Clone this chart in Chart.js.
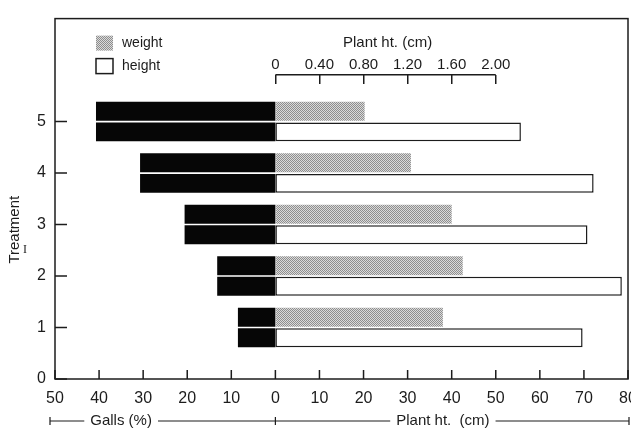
<!DOCTYPE html>
<html>
<head>
<meta charset="utf-8">
<script src="https://cdn.jsdelivr.net/npm/chart.js@4.4.0/dist/chart.umd.min.js"></script>
<style>
  html, body { margin: 0; padding: 0; background: #fff; }
  #wrap { width: 631px; height: 429px; }
</style>
</head>
<body>
<div id="wrap"><canvas id="chart" width="631" height="429"></canvas></div>
<script>
// values, treatment 1..5
const treatments = [1, 2, 3, 4, 5];
const gallsPct = [8.5, 13.2, 20.6, 30.7, 40.7];
const plantWeight = [1.52, 1.70, 1.60, 1.23, 0.81];
const plantHeight = [69.7, 78.6, 70.8, 72.2, 55.7];

// tick labels
const bottomTickValues = [-50, -40, -30, -20, -10, 0, 10, 20, 30, 40, 50, 60, 70, 80];
const bottomTickLabels = ['50', '40', '30', '20', '10', '0', '10', '20', '30', '40', '50', '60', '70', '80'];
const treatmentTicks = [0, 1, 2, 3, 4, 5];
const weightTickValues = [0, 0.4, 0.8, 1.2, 1.6, 2.0];
const weightTickLabels = ['0', '0.40', '0.80', '1.20', '1.60', '2.00'];

const ink = '#1c1c1c';
const fontFamily = '"Liberation Sans", Arial, sans-serif';
const halfGap = 0.2;        // upper/lower bar offset from the treatment line
const weightAxisAt = 5.91;  // where the small weight axis sits on the treatment scale

function makeStipple() {
  const c = document.createElement('canvas');
  c.width = 2; c.height = 2;
  const g = c.getContext('2d');
  g.fillStyle = '#dadada';
  g.fillRect(0, 0, 2, 2);
  g.fillStyle = '#8e8e8e';
  g.fillRect(0, 0, 1, 1);
  g.fillRect(1, 1, 1, 1);
  return g.createPattern(c, 'repeat');
}
const stipple = makeStipple();

// extra drawing: frame, inward ticks, weight axis line, legend, captions
const figureExtras = {
  id: 'figureExtras',
  afterDraw(chart) {
    const { ctx, chartArea: a } = chart;
    const { x, x2, y } = chart.scales;
    ctx.save();
    ctx.strokeStyle = ink;
    ctx.fillStyle = ink;
    ctx.lineWidth = 1.5;

    // frame
    ctx.strokeRect(a.left, a.top, a.right - a.left, a.bottom - a.top);

    // ticks pointing into the plot
    ctx.beginPath();
    bottomTickValues.forEach(function(v) {
      const px = x.getPixelForValue(v);
      ctx.moveTo(px, a.bottom);
      ctx.lineTo(px, a.bottom - 9);
    });
    treatmentTicks.forEach(function(v) {
      const py = y.getPixelForValue(v);
      ctx.moveTo(a.left, py);
      ctx.lineTo(a.left + 12, py);
    });
    ctx.stroke();

    // weight axis line
    const wy = y.getPixelForValue(weightAxisAt);
    const w0 = x2.getPixelForValue(weightTickValues[0]);
    const w1 = x2.getPixelForValue(weightTickValues[weightTickValues.length - 1]);
    ctx.beginPath();
    ctx.moveTo(w0, wy);
    ctx.lineTo(w1, wy);
    ctx.stroke();

    ctx.textBaseline = 'middle';
    ctx.font = '15px ' + fontFamily;
    ctx.textAlign = 'center';
    ctx.fillText('Plant ht. (cm)', (w0 + w1) / 2 + 2, a.top + 24);

    // legend
    const ds = chart.data.datasets;
    const lx = a.left + 41;
    [[ds[1], a.top + 17], [ds[2], a.top + 40]].forEach(function(item) {
      const d = item[0], top = item[1];
      ctx.fillStyle = d.backgroundColor;
      ctx.fillRect(lx, top, 17, 15);
      if (d.borderWidth) {
        ctx.lineWidth = 1.5;
        ctx.strokeRect(lx, top, 17, 15);
      }
      ctx.fillStyle = ink;
      ctx.font = '14px ' + fontFamily;
      ctx.textAlign = 'left';
      ctx.fillText(d.label, lx + 26, top + 8);
    });

    // y title
    ctx.save();
    ctx.translate(15, y.getPixelForValue(2.9));
    ctx.rotate(-Math.PI / 2);
    ctx.textAlign = 'center';
    ctx.font = '15px ' + fontFamily;
    ctx.fillText('Treatment', 0, 0);
    ctx.restore();
    ctx.font = '12px "Liberation Serif", serif';
    ctx.textAlign = 'center';
    ctx.fillText('I', 25, y.getPixelForValue(2.5));

    // bracket under the bottom axis
    const by = a.bottom + 42;
    const xs = a.left - 5, xe = a.right + 1, xm = x.getPixelForValue(0);
    ctx.font = '15px ' + fontFamily;
    const cap1 = 'Galls (%)', cap2 = 'Plant ht.  (cm)';
    const c1 = x.getPixelForValue(-35), c2 = x.getPixelForValue(38);
    const h1 = ctx.measureText(cap1).width / 2 + 6;
    const h2 = ctx.measureText(cap2).width / 2 + 6;
    ctx.fillText(cap1, c1, by);
    ctx.fillText(cap2, c2, by);
    ctx.lineWidth = 1.2;
    ctx.beginPath();
    ctx.moveTo(xs, by); ctx.lineTo(c1 - h1, by);
    ctx.moveTo(c1 + h1, by); ctx.lineTo(xm, by);
    ctx.lineTo(c2 - h2, by);
    ctx.moveTo(c2 + h2, by); ctx.lineTo(xe, by);
    [xs, xm, xe].forEach(function(px) {
      ctx.moveTo(px, by - 4);
      ctx.lineTo(px, by + 4);
    });
    ctx.stroke();
    ctx.restore();
  }
};

const barDefaults = { grouped: false, categoryPercentage: 1, barPercentage: 0.92 };

new Chart(document.getElementById('chart'), {
  type: 'bar',
  data: {
    datasets: [
      Object.assign({
        label: 'galls',
        xAxisID: 'x',
        yAxisID: 'y',
        data: treatments.flatMap(function(t, i) {
          return [
            { y: t + halfGap, x: [-gallsPct[i], 0] },
            { y: t - halfGap, x: [-gallsPct[i], 0] }
          ];
        }),
        backgroundColor: '#060606',
        borderWidth: 0
      }, barDefaults),
      Object.assign({
        label: 'weight',
        xAxisID: 'x2',
        yAxisID: 'y',
        data: treatments.map(function(t, i) {
          return { y: t + halfGap, x: [0, plantWeight[i]] };
        }),
        backgroundColor: stipple,
        borderWidth: 0
      }, barDefaults),
      Object.assign({
        label: 'height',
        xAxisID: 'x',
        yAxisID: 'y',
        data: treatments.map(function(t, i) {
          return { y: t - halfGap, x: [0, plantHeight[i]] };
        }),
        backgroundColor: '#ffffff',
        borderColor: ink,
        borderWidth: 1.5,
        borderSkipped: false
      }, barDefaults)
    ]
  },
  options: {
    indexAxis: 'y',
    responsive: false,
    animation: false,
    layout: { padding: { left: 0, top: 13, right: 3, bottom: 0 } },
    plugins: {
      legend: { display: false },
      tooltip: { enabled: false }
    },
    scales: {
      x: {
        type: 'linear',
        position: 'bottom',
        min: -50,
        max: 80,
        stacked: false,
        afterBuildTicks: function(s) {
          s.ticks = bottomTickValues.map(function(v) { return { value: v }; });
        },
        afterFit: function(s) {
          s.height = 50;
          // let the end labels overhang, as in the original
          s.paddingLeft = 0;
          s.paddingRight = 0;
        },
        ticks: {
          callback: function(v, i) { return bottomTickLabels[i]; },
          padding: 10,
          color: ink,
          font: { family: fontFamily, size: 16 },
          maxRotation: 0,
          autoSkip: false
        },
        grid: { display: false, drawTicks: false },
        border: { display: false }
      },
      x2: {
        type: 'linear',
        axis: 'x',
        position: { y: weightAxisAt },
        min: -2,
        max: 3.2,
        stacked: false,
        afterBuildTicks: function(s) {
          s.ticks = weightTickValues.map(function(v) { return { value: v }; });
        },
        afterFit: function(s) {
          s.paddingLeft = 0;
          s.paddingRight = 0;
        },
        ticks: {
          callback: function(v, i) { return weightTickLabels[i]; },
          padding: -28,
          color: ink,
          font: { family: fontFamily, size: 15 },
          maxRotation: 0,
          autoSkip: false
        },
        grid: { drawOnChartArea: false, drawTicks: true, tickLength: 9, color: ink, lineWidth: 1.5 },
        border: { display: false }
      },
      y: {
        type: 'linear',
        min: 0,
        max: 7,
        offset: false,
        afterBuildTicks: function(s) {
          s.ticks = treatmentTicks.map(function(v) { return { value: v }; });
        },
        afterFit: function(s) { s.width = 55; },
        ticks: {
          callback: function(v) { return String(v); },
          padding: 9,
          color: ink,
          font: { family: fontFamily, size: 16 }
        },
        grid: { display: false, drawTicks: false, offset: false },
        border: { display: false }
      }
    }
  },
  plugins: [figureExtras]
});
</script>
</body>
</html>
